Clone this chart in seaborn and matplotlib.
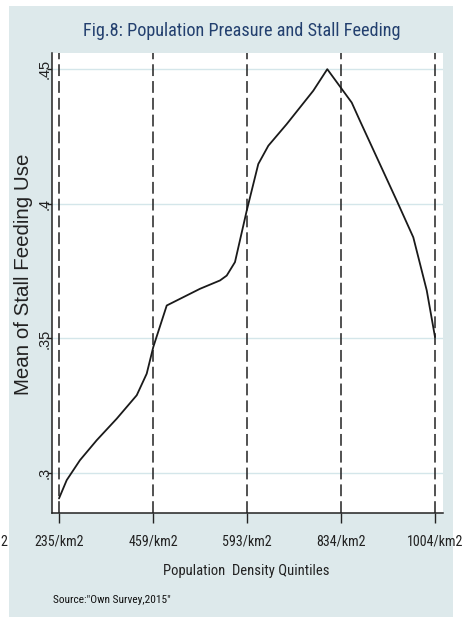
import matplotlib
matplotlib.use("Agg")
import matplotlib.pyplot as plt
from matplotlib.patches import Rectangle
from matplotlib import font_manager
import seaborn as sns
import pandas as pd

# ---- data ----
quintile_pos = [1, 2, 3, 4, 5]
quintile_labels = ["235/km2", "459/km2", "593/km2", "834/km2", "1004/km2"]
density_x = [1.0, 1.082, 1.223, 1.401, 1.614, 1.827, 1.933, 2.003, 2.146, 2.5,
             2.713, 2.784, 2.872, 2.997, 3.120, 3.227, 3.422, 3.705, 3.854,
             4.114, 4.202, 4.593, 4.769, 4.912, 5.0]
stall_mean = [0.2906, 0.2974, 0.3048, 0.3122, 0.3202, 0.3289, 0.3369, 0.3468,
              0.3622, 0.3684, 0.3715, 0.3733, 0.3783, 0.3974, 0.4147, 0.4215,
              0.4295, 0.4419, 0.4499, 0.4375, 0.4307, 0.4011, 0.3875, 0.3678,
              0.3505]
y_ticks = [0.30, 0.35, 0.40, 0.45]
y_ticklabels = [".3", ".35", ".4", ".45"]

df = pd.DataFrame({"density": density_x, "stall": stall_mean})

sns.set_theme(style="white")
plt.rcParams["lines.scale_dashes"] = False

names = {f.name for f in font_manager.fontManager.ttflist}
NARROW_NAME = "Liberation Sans"
for cand in ["Liberation Sans Narrow", "Roboto Condensed", "Open Sans Condensed",
             "DejaVu Sans Condensed", "Arial Narrow"]:
    if cand in names:
        NARROW_NAME = cand
        break
NARROW = [NARROW_NAME, "DejaVu Sans"]
REG = ["Liberation Sans", "DejaVu Sans"]
plt.rcParams["font.family"] = REG

W, H = 477, 618
PX = 72 / 100  # points per pixel
fig = plt.figure(figsize=(W / 100, H / 100), dpi=100)
fig.patch.set_facecolor("white")

bg = "#dde9eb"
bgrect = Rectangle((9 / W, 1 - 617 / H), 444 / W, 611 / H,
                   transform=fig.transFigure, facecolor=bg,
                   edgecolor="none", zorder=-10)
fig.add_artist(bgrect)

ax = fig.add_axes([52 / W, 1 - 513 / H, 391 / W, 460 / H])
ax.set_zorder(1)
ax.set_facecolor("white")

ax.set_xlim(0.9255, 5.085)
ax.set_ylim(0.2852, 0.4559)

for yv in y_ticks:
    ax.axhline(yv, color="#d4e6ea", lw=1.0, zorder=1)
for xv in quintile_pos:
    ax.axvline(xv, color="#222222", lw=1.1, dashes=(8.5, 3.6), zorder=2)

sns.lineplot(data=df, x="density", y="stall", sort=False, estimator=None,
             color="#1a1a1a", lw=1.3, ax=ax, zorder=3)

for s in ["top", "right"]:
    ax.spines[s].set_visible(False)
for s in ["left", "bottom"]:
    ax.spines[s].set_visible(True)
    ax.spines[s].set_color("#222222")
    ax.spines[s].set_linewidth(1.1)

ax.set_xticks(quintile_pos)
ax.set_xticklabels(quintile_labels, fontsize=10.5, family=NARROW, color="#222222")
ax.set_yticks(y_ticks)
ax.set_yticklabels(y_ticklabels, fontsize=14.5 * PX, rotation=90, va="center",
                   color="#222222")
ax.tick_params(axis="x", bottom=True, length=7.2, width=1.0, color="#222222", pad=8)
ax.tick_params(axis="y", left=True, length=3.5, width=1.0, color="#222222",
               pad=-4.5 * PX)

ax.set_xlabel("Population  Density Quintiles", fontsize=11, family=NARROW,
              color="#222222")
ax.xaxis.label.set_va("center")
ax.xaxis.set_label_coords((246 - 52) / 391, (513 - 571) / 460)
ax.set_ylabel("Mean of Stall Feeding Use", fontsize=20.5 * PX, color="#222222")
ax.yaxis.label.set_va("center")
ax.yaxis.set_label_coords(-(52 - 23.4) / 391, (513 - 274) / 460)

title = fig.text(241.5 / W, 1 - 31 / H,
                 "Fig.8: Population Preasure and Stall Feeding",
                 ha="center", va="center", fontsize=13.7, family=NARROW,
                 color="#23406f")
src = fig.text(53 / W, 1 - 600 / H, "Source:\"Own Survey,2015\"", ha="left",
               va="center", fontsize=8, family=NARROW, color="#111111")
frag = fig.text(0.5 / W, 1 - 542 / H, "2", ha="left", va="center",
                fontsize=10.5, family=NARROW, color="#222222")

# fit text sizes to the widths measured on the reference (pixels)
fig.canvas.draw()
r = fig.canvas.get_renderer()


def fit(t, target):
    bb = t.get_window_extent(r)
    t.set_fontsize(t.get_fontsize() * target / bb.width)


fit(title, 318)
fit(src, 118)
fit(ax.xaxis.label, 166)
lab0 = ax.get_xticklabels()[0]
bb = lab0.get_window_extent(r)
xt_size = lab0.get_fontsize() * 50 / bb.width
for t in ax.get_xticklabels():
    t.set_fontsize(xt_size)
frag.set_fontsize(xt_size)

fig.savefig("out.png", dpi=100, facecolor="white")
